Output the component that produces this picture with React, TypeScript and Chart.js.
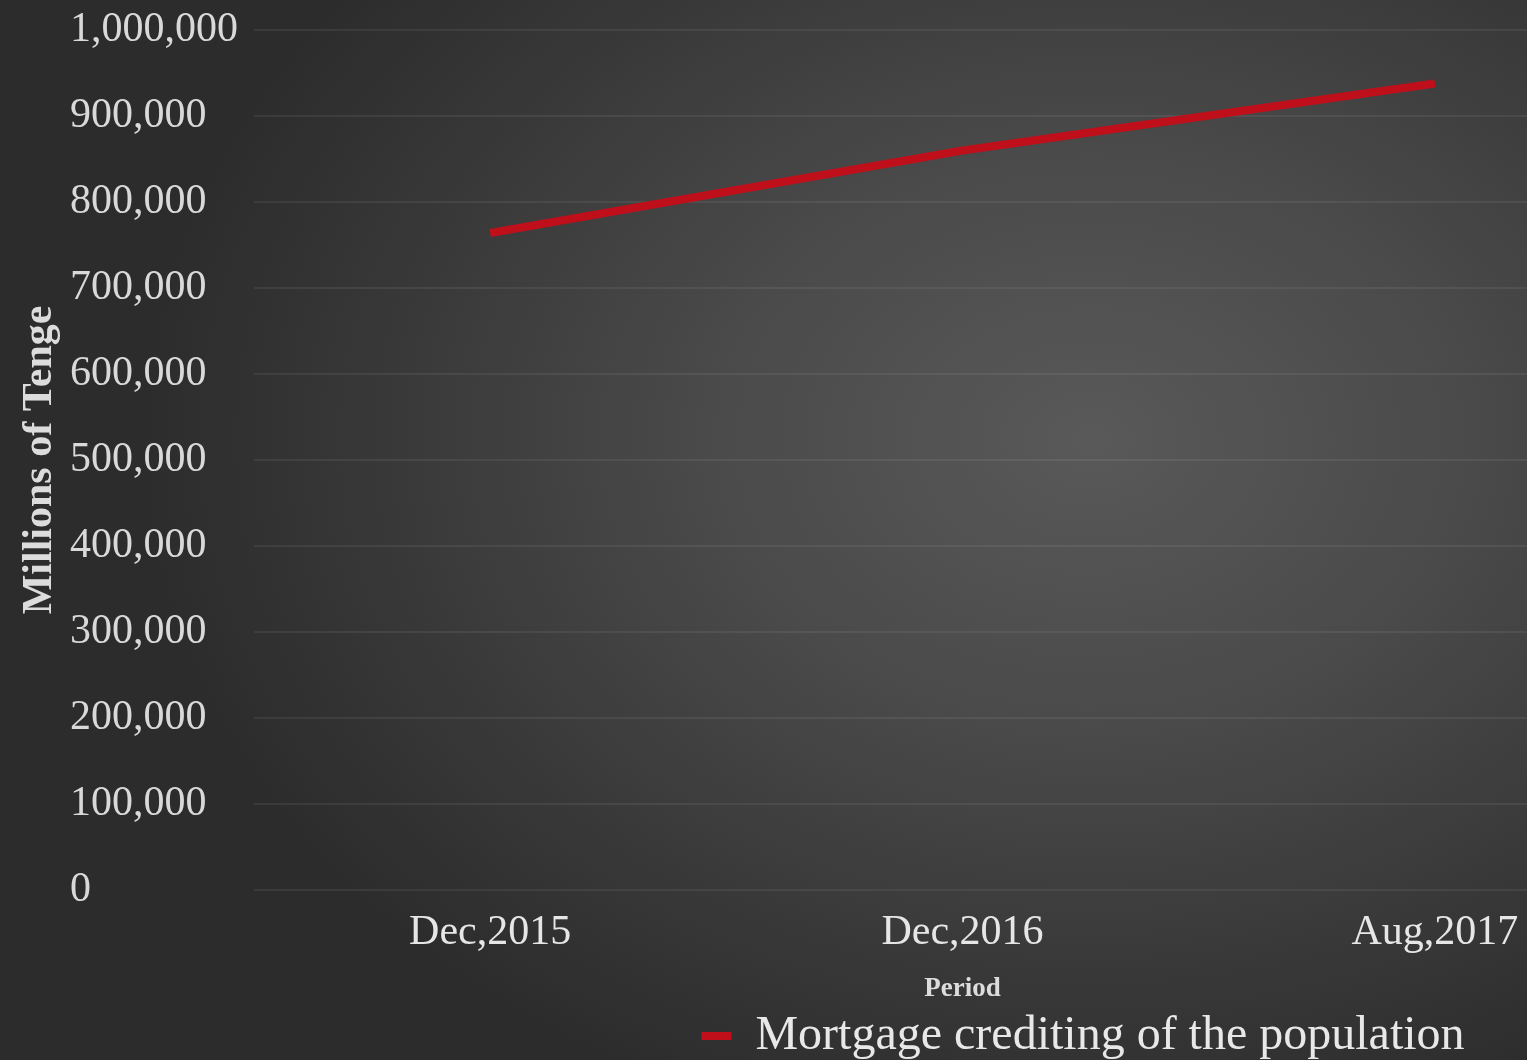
import React, { useEffect, useRef } from "react";
import { Chart, registerables } from "chart.js";

Chart.register(...registerables);

const categories = ["Dec,2015", "Dec,2016", "Aug,2017"];
const seriesName = "Mortgage crediting of the population";
const mortgageValues = [764000, 860000, 938000];
const yMin = 0;
const yMax = 1000000;
const yStep = 100000;
const yTitle = "Millions of Tenge";
const xTitle = "Period";

const FONT = "'Liberation Serif', 'Times New Roman', serif";
const CANVAS_W = 2166;
const CANVAS_H = 1060;

export default function App() {
  const ref = useRef<HTMLCanvasElement | null>(null);

  useEffect(() => {
    if (!ref.current) return;
    const chart = new Chart(ref.current, {
      type: "line",
      data: {
        labels: categories,
        datasets: [
          {
            label: seriesName,
            data: mortgageValues,
            borderColor: "#bf0f1b",
            backgroundColor: "#bf0f1b",
            borderWidth: 8,
            pointRadius: 0,
            tension: 0,
            yAxisID: "y",
          },
        ],
      },
      options: {
        responsive: false,
        animation: false,
        devicePixelRatio: 1,
        layout: { padding: { top: 24, left: 0, right: 0, bottom: -10 } },
        plugins: {
          tooltip: { enabled: false },
          legend: {
            position: "bottom",
            labels: {
              color: "#e8e8e8",
              font: { family: FONT, size: 48 },
              boxWidth: 30,
              boxHeight: 8,
              padding: 3,
              generateLabels: (c: any) =>
                Chart.defaults.plugins.legend.labels
                  .generateLabels(c)
                  .map((l: any) => ({ ...l, lineWidth: 0 })),
            },
          },
        },
        scales: {
          x: {
            type: "category",
            offset: true,
            grid: { display: false, drawTicks: false },
            border: { display: false },
            ticks: {
              color: "#e6e6e6",
              font: { family: FONT, size: 42 },
              padding: 18,
              maxRotation: 0,
            },
            title: {
              display: true,
              text: xTitle,
              color: "#dcdcdc",
              font: { family: FONT, size: 27, weight: "bold", lineHeight: 1 },
              padding: { top: 0, bottom: 6 },
            },
          },
          yTitleAxis: {
            type: "linear",
            position: "left",
            weight: 10,
            min: yMin,
            max: yMax,
            grid: { display: false, drawTicks: false },
            border: { display: false },
            ticks: { display: false },
            title: {
              display: true,
              text: yTitle,
              color: "#dcdcdc",
              font: { family: FONT, size: 42, weight: "bold" },
              padding: { top: 15, bottom: 0 },
            },
            afterFit: (s: any) => {
              s.width = 70;
            },
          },
          y: {
            type: "linear",
            position: "left",
            weight: 0,
            min: yMin,
            max: yMax,
            grid: {
              color: "rgba(255,255,255,0.065)",
              lineWidth: 2,
              drawTicks: false,
            },
            border: { display: false },
            ticks: {
              stepSize: yStep,
              color: "#d9d9d9",
              crossAlign: "far",
              padding: 5,
              font: { family: FONT, size: 42 },
              callback: (v: any) => Number(v).toLocaleString("en-US"),
            },
            afterFit: (s: any) => {
              s.width = 184;
            },
          },
          yRightSpace: {
            type: "linear",
            position: "right",
            min: yMin,
            max: yMax,
            grid: { display: false, drawTicks: false },
            border: { display: false },
            ticks: { display: false },
            afterFit: (s: any) => {
              s.width = CANVAS_W - 1671;
            },
          },
        },
      },
    } as any);
    return () => chart.destroy();
  }, []);

  return (
    <div
      style={{
        position: "fixed",
        left: 0,
        top: 0,
        width: 1527,
        height: 1060,
        overflow: "hidden",
        background:
          "radial-gradient(ellipse 950px 720px at 1090px 440px, #595959 0%, #4a4a4a 40%, #383838 75%, #2c2c2c 100%)",
      }}
    >
      <canvas
        ref={ref}
        width={CANVAS_W}
        height={CANVAS_H}
        style={{ display: "block", width: CANVAS_W, height: CANVAS_H }}
      />
    </div>
  );
}
